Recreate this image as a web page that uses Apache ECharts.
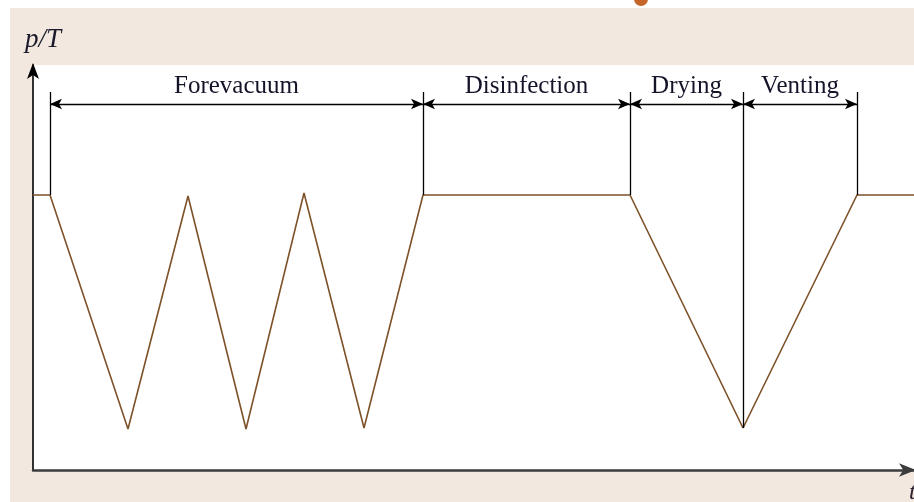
<!DOCTYPE html>
<html>
<head>
<meta charset="utf-8">
<title>Sterilisation cycle: p/T over t</title>
<script src="https://cdn.jsdelivr.net/npm/echarts@6/dist/echarts.min.js"></script>
<style>
  html, body { margin: 0; padding: 0; background: #ffffff; }
  #chart { width: 914px; height: 502px; }
</style>
</head>
<body>
<div id="chart"></div>
<script>
// Pressure/temperature profile of one cycle (arbitrary units, t along x)
const profileT = [0, 17, 95, 155, 213, 271, 331, 390, 597, 710, 824, 881];
const profileP = [275, 275, 41, 274, 41, 277, 42, 275, 275, 42, 275, 275];

// Phase boundaries along t and their names
const phaseBounds = [17, 390, 597, 710, 824];
const phaseNames = ['Forevacuum', 'Disinfection', 'Drying', 'Venting'];

// Heights of the dimension annotations
const dimLineP = 366;   // level of the double-headed arrows
const tickTopP = 378;   // top of the boundary lines
const tickBottomP = 275; // bottom of ordinary boundary lines
const dryBottomP = 42;  // the drying/venting boundary reaches the minimum

const serif = '"Liberation Serif", "DejaVu Serif", serif';

const boundaryLines = phaseBounds.map((t, i) => [
  { coord: [t, tickTopP] },
  { coord: [t, i === 3 ? dryBottomP : tickBottomP] }
]);

const dimensionArrows = phaseNames.map((name, i) => [
  { coord: [phaseBounds[i], dimLineP], name: name },
  { coord: [phaseBounds[i + 1], dimLineP] }
]);

const chart = echarts.init(document.getElementById('chart'), null, { renderer: 'canvas' });

chart.setOption({
  backgroundColor: '#f2e8df',
  animation: false,
  graphic: [
    { type: 'rect', left: 0, top: 0, shape: { width: 914, height: 8 }, style: { fill: '#ffffff' }, silent: true },
    { type: 'rect', left: 0, top: 0, shape: { width: 10, height: 502 }, style: { fill: '#ffffff' }, silent: true },
    { type: 'circle', shape: { cx: 641, cy: -1, r: 7 }, style: { fill: '#c4652a' }, silent: true }
  ],
  grid: {
    left: 33, right: 0, top: 65, bottom: 32,
    outerBoundsMode: 'none',
    show: true, backgroundColor: '#ffffff', borderWidth: 0
  },
  xAxis: {
    type: 'value', min: 0, max: 881,
    splitLine: { show: false }, axisTick: { show: false }, axisLabel: { show: false },
    axisLine: {
      show: true, onZero: false,
      lineStyle: { color: '#3c3c3c', width: 2.5 },
      symbol: ['none', 'arrow'], symbolSize: [10, 17], symbolOffset: [0, 2]
    },
    name: 't', nameLocation: 'end', nameGap: -5,
    nameTextStyle: {
      fontFamily: serif, fontStyle: 'italic', fontSize: 24, color: '#2a2030',
      align: 'left', verticalAlign: 'top', padding: [11, 0, 0, 0]
    }
  },
  yAxis: {
    type: 'value', min: 0, max: 405,
    splitLine: { show: false }, axisTick: { show: false }, axisLabel: { show: false },
    axisLine: {
      show: true, onZero: false,
      lineStyle: { color: '#000000', width: 1.6 },
      symbol: ['none', 'arrow'], symbolSize: [9, 16], symbolOffset: [0, 2]
    },
    name: 'p/T', nameLocation: 'end', nameGap: 12,
    nameTextStyle: {
      fontFamily: serif, fontStyle: 'italic', fontSize: 27, color: '#1a1a2a',
      align: 'left', padding: [0, 0, 0, -8]
    }
  },
  series: [
    {
      type: 'line',
      data: profileT.map((t, i) => [t, profileP[i]]),
      symbol: 'none',
      clip: false,
      lineStyle: { color: '#7d5229', width: 1.6 },
      z: 3
    },
    {
      // phase boundary lines
      type: 'line', data: [], symbol: 'none',
      markLine: {
        silent: true, symbol: ['none', 'none'], animation: false,
        lineStyle: { type: 'solid', color: '#000000', width: 1.3 },
        label: { show: false },
        data: boundaryLines
      },
      z: 4
    },
    {
      // double-headed dimension arrows with phase names
      type: 'line', data: [], symbol: 'none',
      markLine: {
        silent: true, symbol: ['arrow', 'arrow'], symbolSize: [8, 12], animation: false,
        lineStyle: { type: 'solid', color: '#000000', width: 1.3 },
        label: {
          show: true, position: 'middle', distance: 5,
          formatter: p => p.name,
          fontFamily: serif, fontSize: 25, color: '#141428'
        },
        data: dimensionArrows
      },
      z: 4
    }
  ]
});
</script>
</body>
</html>
